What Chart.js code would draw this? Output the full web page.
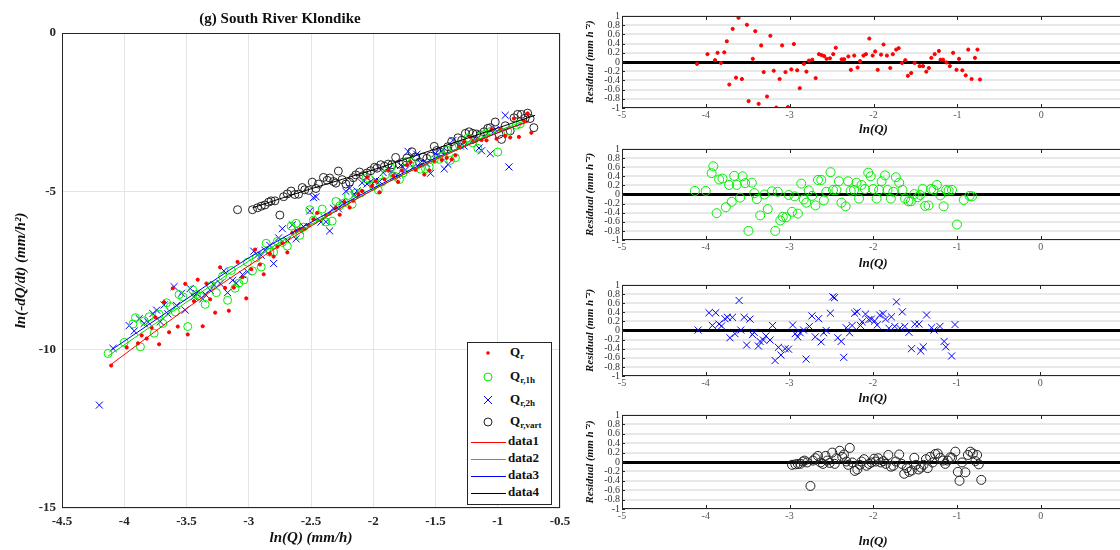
<!DOCTYPE html>
<html>
<head>
<meta charset="utf-8">
<script src="https://cdn.jsdelivr.net/npm/chart.js@4.4.1/dist/chart.umd.min.js"></script>
<style>
  html, body { margin: 0; padding: 0; background: #fff; }
  body { width: 1120px; height: 550px; overflow: hidden; position: relative; font-family: 'Liberation Serif', serif; }
  .pane { position: absolute; }
  #legend { position: absolute; left: 467px; top: 342px; width: 85px; height: 163px; border: 1px solid #262626; background: #fff; box-sizing: border-box; }
  #legend .lbl { position: absolute; font-weight: bold; font-size: 13px; color: #111; white-space: nowrap; line-height: 18px; }
  #legend sub { font-size: 9px; vertical-align: -3px; }
</style>
</head>
<body>
<div class="pane" style="left:0;top:0;width:580px;height:550px"><canvas id="main"></canvas></div>
<div class="pane" id="p1"><canvas id="r1"></canvas></div>
<div class="pane" id="p2"><canvas id="r2"></canvas></div>
<div class="pane" id="p3"><canvas id="r3"></canvas></div>
<div class="pane" id="p4"><canvas id="r4"></canvas></div>
<div id="legend"></div>
<script>
// Q_r (red dots): ln(Q), ln(-dQ/dt), residual
const qrX = [-4.105,-3.98,-3.89,-3.86,-3.82,-3.78,-3.75,-3.72,-3.68,-3.64,
  -3.61,-3.57,-3.51,-3.49,-3.44,-3.41,-3.37,-3.34,-3.31,-3.27,
  -3.23,-3.19,-3.16,-3.12,-3.09,-3.05,-3.02,-2.98,-2.95,-2.91,
  -2.88,-2.83,-2.80,-2.77,-2.73,-2.69,-2.65,-2.62,-2.59,-2.56,
  -2.52,-2.48,-2.45,-2.38,-2.35,-2.30,-2.27,-2.23,-2.19,-2.16,
  -2.12,-2.09,-2.05,-2.01,-1.98,-1.95,-1.91,-1.88,-1.84,-1.80,
  -1.77,-1.73,-1.70,-1.66,-1.62,-1.59,-1.55,-1.51,-1.45,-1.41,
  -1.37,-1.34,-1.31,-1.27,-1.22,-1.20,-1.17,-1.13,-1.09,-1.05,
  -1.01,-0.98,-0.94,-0.90,-0.87,-0.83,-0.79,-0.76,-0.73];
const qrY = [-10.50,-9.93,-9.80,-9.55,-9.65,-9.31,-8.98,-9.83,-8.50,-9.45,
  -8.06,-9.27,-7.92,-9.52,-8.47,-7.79,-9.26,-7.91,-8.41,-8.83,
  -7.40,-8.05,-8.77,-8.04,-7.23,-7.71,-8.38,-7.46,-6.84,-7.31,
  -7.62,-6.97,-7.06,-6.75,-6.63,-6.93,-6.31,-6.25,-6.20,-6.18,
  -6.07,-5.88,-5.68,-5.76,-5.70,-5.52,-5.74,-5.34,-5.51,-5.30,
  -5.09,-4.99,-4.56,-4.83,-4.68,-5.03,-4.62,-4.34,-4.51,-4.70,
  -4.34,-4.17,-4.08,-4.32,-4.19,-4.47,-4.34,-4.04,-4.01,-3.94,
  -3.99,-3.86,-3.59,-3.44,-3.28,-3.44,-3.39,-3.38,-3.39,-3.04,
  -3.34,-3.05,-3.25,-3.30,-2.70,-3.28,-2.77,-2.54,-3.15];
const qrRes = [-0.04,0.17,0.04,0.20,-0.02,0.21,0.45,-0.49,0.72,-0.34,
  0.96,-0.37,0.81,-0.85,0.07,0.67,-0.91,0.36,-0.22,-0.75,
  0.57,-0.19,-0.99,-0.37,0.36,-0.22,-0.98,-0.16,0.39,-0.18,
  -0.57,-0.04,-0.21,0.03,0.05,-0.35,0.17,0.15,0.13,0.07,
  0.08,0.17,0.31,0.06,0.06,0.12,-0.17,0.14,-0.12,0.02,
  0.14,0.17,0.51,0.14,0.23,-0.17,0.16,0.38,0.14,-0.13,
  0.17,0.27,0.30,-0.02,0.04,-0.30,-0.24,-0.02,-0.09,-0.09,
  -0.21,-0.13,0.09,0.17,0.24,0.05,0.05,-0.01,-0.09,0.20,
  -0.17,0.07,-0.18,-0.29,0.27,-0.37,0.09,0.27,-0.38];

// Q_r,1h (green circles)
const q1hX = [-4.13,-4.00,-3.93,-3.91,-3.87,-3.84,-3.80,-3.76,-3.72,-3.69,
  -3.66,-3.63,-3.59,-3.56,-3.53,-3.49,-3.45,-3.42,-3.39,-3.35,
  -3.30,-3.26,-3.21,-3.17,-3.14,-3.11,-3.08,-3.04,-3.01,-2.97,
  -2.94,-2.90,-2.86,-2.83,-2.80,-2.77,-2.73,-2.69,-2.66,-2.62,
  -2.59,-2.56,-2.51,-2.48,-2.44,-2.41,-2.38,-2.33,-2.30,-2.27,
  -2.23,-2.20,-2.17,-2.14,-2.10,-2.06,-2.03,-2.00,-1.96,-1.93,
  -1.90,-1.86,-1.83,-1.79,-1.76,-1.73,-1.69,-1.65,-1.62,-1.58,
  -1.55,-1.51,-1.47,-1.44,-1.41,-1.38,-1.34,-1.31,-1.28,-1.24,
  -1.20,-1.16,-1.13,-1.10,-1.06,-1.00,-0.92,-0.85,-0.82];
const q1hY = [-10.12,-9.77,-9.19,-8.99,-9.91,-9.09,-8.96,-9.48,-8.88,-9.17,
  -8.52,-8.64,-8.81,-8.26,-8.33,-9.27,-8.11,-8.26,-8.31,-8.57,
  -7.98,-8.20,-7.68,-8.44,-7.50,-8.06,-7.90,-7.80,-7.24,-7.51,
  -7.10,-7.39,-6.64,-6.92,-6.92,-6.58,-6.61,-6.73,-6.10,-6.01,
  -6.39,-6.13,-5.58,-5.91,-5.82,-5.56,-5.97,-5.94,-5.32,-5.46,
  -5.36,-5.13,-5.41,-5.05,-5.05,-4.60,-4.62,-4.83,-4.96,-4.71,
  -4.47,-4.26,-4.52,-4.63,-4.42,-4.05,-4.09,-4.17,-4.30,-4.29,
  -4.23,-3.99,-3.99,-3.88,-3.70,-4.02,-3.94,-3.53,-3.49,-3.31,
  -3.47,-3.64,-3.23,-3.19,-3.11,-3.76,-3.10,-2.91,-2.87];
const q1hRes = [0.08,0.08,0.47,0.62,-0.41,0.33,0.35,-0.28,0.21,-0.16,
  0.41,0.21,-0.07,0.40,0.25,-0.80,0.26,0.03,-0.10,-0.46,
  0.00,-0.32,0.07,-0.80,0.06,-0.57,-0.49,-0.50,-0.01,-0.38,
  -0.04,-0.42,0.24,-0.11,-0.18,0.09,-0.03,-0.24,0.32,0.32,
  -0.13,0.06,0.49,0.10,0.10,0.29,-0.18,-0.26,0.29,0.08,
  0.10,0.26,-0.09,0.21,0.12,0.48,0.40,0.12,-0.09,0.10,
  0.29,0.42,0.10,-0.09,0.06,0.38,0.26,0.10,-0.09,-0.15,
  -0.15,0.01,-0.06,-0.01,0.12,-0.25,-0.24,0.12,0.10,0.21,
  -0.02,-0.26,0.10,0.09,0.10,-0.66,-0.12,-0.03,-0.04];

// Q_r,2h (blue crosses); null residual = not shown in residual panel
const q2hX = [-4.20,-4.09,-3.96,-3.92,-3.88,-3.84,-3.81,-3.77,-3.74,-3.71,
  -3.68,-3.65,-3.60,-3.58,-3.54,-3.51,-3.47,-3.44,-3.42,-3.37,
  -3.35,-3.31,-3.28,-3.23,-3.20,-3.17,-3.13,-3.10,-3.05,-3.01,
  -2.96,-2.93,-2.90,-2.87,-2.83,-2.80,-2.76,-2.73,-2.69,-2.65,
  -2.62,-2.59,-2.56,-2.51,-2.48,-2.46,-2.42,-2.38,-2.35,-2.32,
  -2.28,-2.25,-2.22,-2.19,-2.15,-2.13,-2.09,-2.05,-2.02,-1.98,
  -1.95,-1.92,-1.88,-1.85,-1.81,-1.78,-1.74,-1.72,-1.68,-1.65,
  -1.62,-1.57,-1.54,-1.50,-1.45,-1.43,-1.40,-1.36,-1.30,-1.27,
  -1.20,-1.15,-1.13,-1.06,-1.02,-0.94,-0.91];
const q2hY = [-11.75,-9.96,-9.24,-9.41,-9.02,-9.17,-9.13,-8.86,-8.75,-9.12,
  -8.59,-8.87,-8.01,-8.60,-8.22,-8.75,-8.07,-8.33,-8.23,-8.40,
  -8.25,-8.12,-7.95,-7.91,-7.51,-8.20,-7.81,-7.90,-7.63,-7.54,
  -6.89,-7.01,-7.02,-6.86,-6.71,-7.28,-6.47,-6.18,-6.55,-6.06,
  -6.50,-6.23,-6.11,-5.62,-5.20,-5.17,-5.97,-5.96,-6.25,-5.53,
  -5.55,-5.33,-5.00,-4.90,-5.11,-4.99,-4.73,-4.77,-4.69,-4.65,
  -4.69,-4.41,-4.30,-4.37,-4.49,-4.18,-4.32,-3.74,-4.24,-3.83,
  -4.09,-4.12,-4.43,-3.81,-3.73,-4.29,-4.15,-3.39,-3.57,-3.57,
  -3.38,-3.63,-3.72,-3.81,-3.05,-2.60,-4.23];
const q2hRes = [null,0.01,0.39,0.11,0.39,0.14,0.10,0.26,0.29,-0.16,
  0.29,-0.07,0.66,0.01,0.29,-0.32,0.25,-0.09,-0.04,-0.34,
  -0.24,-0.21,-0.12,-0.21,0.11,-0.66,-0.37,-0.54,-0.40,-0.41,
  0.12,-0.07,-0.14,-0.05,0.01,-0.63,0.09,0.32,-0.14,0.26,
  -0.25,-0.05,0.00,0.38,0.74,0.72,-0.16,-0.24,-0.59,0.06,
  -0.05,0.11,0.38,0.41,0.11,0.19,0.36,0.24,0.25,0.21,
  0.12,0.34,0.37,0.25,0.05,0.30,0.09,0.63,0.05,0.41,
  0.09,-0.04,-0.40,0.14,0.14,-0.45,-0.36,0.34,0.06,0.01,
  0.09,-0.24,-0.36,-0.56,0.13,null,null];

// Q_r,vart (black circles)
const qvX = [-3.09,-2.97,-2.93,-2.90,-2.87,-2.84,-2.82,-2.79,-2.75,-2.72,
  -2.69,-2.66,-2.63,-2.60,-2.57,-2.55,-2.52,-2.49,-2.46,-2.44,
  -2.40,-2.37,-2.35,-2.32,-2.30,-2.28,-2.25,-2.22,-2.19,-2.16,
  -2.14,-2.11,-2.08,-2.05,-2.02,-1.99,-1.97,-1.94,-1.91,-1.88,
  -1.85,-1.82,-1.79,-1.76,-1.73,-1.69,-1.66,-1.63,-1.60,-1.57,
  -1.54,-1.51,-1.49,-1.46,-1.43,-1.40,-1.37,-1.35,-1.32,-1.29,
  -1.26,-1.23,-1.20,-1.17,-1.14,-1.11,-1.08,-1.06,-1.02,-0.99,
  -0.97,-0.94,-0.90,-0.87,-0.84,-0.81,-0.78,-0.76,-0.74,-0.71];
const qvY = [-5.58,-5.58,-5.52,-5.47,-5.43,-5.34,-5.30,-5.30,-5.75,-5.17,
  -5.08,-4.99,-5.10,-5.09,-4.88,-4.95,-4.97,-4.71,-4.91,-4.77,
  -4.56,-4.65,-4.58,-4.69,-4.74,-4.36,-4.63,-4.77,-4.71,-4.57,
  -4.48,-4.39,-4.50,-4.42,-4.35,-4.24,-4.27,-4.16,-4.21,-4.14,
  -4.16,-3.93,-4.14,-4.08,-3.95,-3.75,-3.91,-4.08,-3.92,-3.96,
  -3.89,-3.58,-3.71,-3.77,-3.69,-3.59,-3.43,-3.59,-3.31,-3.39,
  -3.17,-3.12,-3.17,-3.19,-3.22,-3.12,-3.01,-2.99,-2.81,-3.20,
  -3.36,-2.93,-3.09,-2.68,-2.57,-2.57,-2.69,-2.53,-2.70,-2.99];
const qvRes = [null,-0.06,-0.05,-0.04,-0.04,0.01,0.03,-0.01,-0.51,0.03,
  0.08,0.13,-0.01,-0.04,0.13,0.03,-0.02,0.20,-0.04,0.08,
  0.24,0.11,0.16,0.01,-0.06,0.30,-0.01,-0.19,-0.16,-0.06,
  0.01,0.06,-0.08,-0.04,-0.01,0.07,0.01,0.08,-0.01,0.02,
  -0.04,0.15,-0.10,-0.08,0.01,0.16,-0.04,-0.25,-0.13,-0.21,
  -0.18,0.09,-0.06,-0.16,-0.12,-0.06,0.06,-0.13,0.11,-0.01,
  0.17,0.18,0.09,0.03,-0.04,0.03,0.10,0.09,0.22,-0.21,
  -0.40,-0.01,-0.22,0.15,0.22,0.18,0.02,0.15,-0.05,-0.38];

// fitted recession curves (data1..data4)
const fit1X = [-4.1,-3.5,-3,-2.5,-2,-1.5,-1,-0.75];
const fit1Y = [-10.45,-8.7,-7.35,-6.1,-4.95,-4.0,-3.15,-2.8];
const fit2X = [-4.13,-3.5,-3,-2.5,-2,-1.5,-1,-0.8];
const fit2Y = [-10.2,-8.5,-7.2,-6.05,-4.95,-3.98,-3.1,-2.8];
const fit3X = [-4.1,-3.5,-3,-2.5,-2,-1.5,-1,-0.8];
const fit3Y = [-10.0,-8.4,-7.1,-5.98,-4.9,-3.95,-3.15,-2.85];
const fit4X = [-2.97,-2.5,-2,-1.5,-1,-0.7];
const fit4Y = [-5.52,-4.92,-4.32,-3.66,-3.0,-2.6];

const legendLabels = ['Q<sub>r</sub>', 'Q<sub>r,1h</sub>', 'Q<sub>r,2h</sub>', 'Q<sub>r,vart</sub>', 'data1', 'data2', 'data3', 'data4'];

const serif = "'Liberation Serif', 'Times New Roman', serif";
const pts = (xs, ys) => xs.map((x, i) => ({ x: x, y: ys[i] })).filter(p => p.y !== null);
const fmt = v => String(Math.round(v * 10) / 10);

const styles = [
  { pointStyle: 'circle', radius: 1.6, color: '#ff0000', fill: '#ff0000' },
  { pointStyle: 'circle', radius: 4, color: '#00ee00', fill: 'rgba(0,0,0,0)' },
  { pointStyle: 'crossRot', radius: 5, color: '#0000ff', fill: 'rgba(0,0,0,0)' },
  { pointStyle: 'circle', radius: 4, color: '#222222', fill: 'rgba(0,0,0,0)' }
];
const lineColors = ['#ff0000', '#00dd00', '#0000ff', '#000000'];

// axes box (MATLAB "box on") with inward tick marks
const boxPlugin = {
  id: 'box',
  afterDraw(chart, args, opts) {
    const { ctx, chartArea: a } = chart;
    ctx.save();
    ctx.strokeStyle = '#262626';
    ctx.lineWidth = 1;
    ctx.strokeRect(Math.round(a.left) + 0.5, Math.round(a.top) + 0.5, Math.round(a.width) - 1, Math.round(a.height) - 1);
    if (opts.inTicks) {
      const sx = chart.scales.x, sy = chart.scales.y;
      ctx.beginPath();
      sx.ticks.forEach(t => {
        const px = Math.round(sx.getPixelForValue(t.value)) + 0.5;
        ctx.moveTo(px, a.bottom); ctx.lineTo(px, a.bottom - 4);
        ctx.moveTo(px, a.top); ctx.lineTo(px, a.top + 4);
      });
      sy.ticks.forEach(t => {
        const py = Math.round(sy.getPixelForValue(t.value)) + 0.5;
        ctx.moveTo(a.left, py); ctx.lineTo(a.left + 3, py);
      });
      ctx.stroke();
    }
    ctx.restore();
  }
};

function scatterSet(label, xs, ys, st, r) {
  return {
    label: label, data: pts(xs, ys), pointStyle: st.pointStyle,
    pointRadius: r || st.radius, pointBorderColor: st.color, pointBackgroundColor: st.fill,
    pointBorderWidth: 1, borderColor: st.color, backgroundColor: st.fill, showLine: false, order: 1
  };
}
function lineSet(label, xs, ys, color) {
  return {
    label: label, data: pts(xs, ys), showLine: true, pointRadius: 0, borderColor: color,
    borderWidth: 1, cubicInterpolationMode: 'monotone', order: 0
  };
}

new Chart(document.getElementById('main'), {
  type: 'scatter',
  data: {
    datasets: [
      scatterSet('Qr', qrX, qrY, styles[0]),
      scatterSet('Qr,1h', q1hX, q1hY, styles[1]),
      scatterSet('Qr,2h', q2hX, q2hY, styles[2]),
      scatterSet('Qr,vart', qvX, qvY, styles[3]),
      lineSet('data1', fit1X, fit1Y, lineColors[0]),
      lineSet('data2', fit2X, fit2Y, lineColors[1]),
      lineSet('data3', fit3X, fit3Y, lineColors[2]),
      lineSet('data4', fit4X, fit4Y, lineColors[3])
    ]
  },
  options: {
    responsive: true, maintainAspectRatio: false, animation: false,
    layout: { padding: { right: 20 } },
    plugins: {
      legend: { display: false }, tooltip: { enabled: false },
      title: { display: true, text: '(g) South River Klondike', color: '#111',
        font: { family: serif, size: 15, weight: 'bold' }, padding: { top: 10, bottom: 5 } },
      box: {}
    },
    scales: {
      x: {
        min: -4.5, max: -0.5,
        ticks: { stepSize: 0.5, autoSkip: false, maxRotation: 0, padding: 6, color: '#262626', callback: fmt,
          font: { family: serif, size: 13, weight: 'bold' } },
        grid: { color: '#e4e4e4', drawTicks: false }, border: { display: false },
        title: { display: true, text: 'ln(Q) (mm/h)', color: '#111', padding: { top: 0, bottom: 3 },
          font: { family: serif, size: 15, weight: 'bold', style: 'italic' } },
        afterFit: s => { s.height = 42; }
      },
      y: {
        min: -15, max: 0,
        ticks: { stepSize: 5, autoSkip: false, padding: 6, color: '#262626', callback: fmt,
          font: { family: serif, size: 13, weight: 'bold' } },
        grid: { color: '#e4e4e4', drawTicks: false }, border: { display: false },
        title: { display: true, text: 'ln(-dQ/dt) (mm/h²)', color: '#111', padding: { top: 12, bottom: 0 },
          font: { family: serif, size: 15, weight: 'bold', style: 'italic' } },
        afterFit: s => { s.width = 62; }
      }
    }
  },
  plugins: [boxPlugin]
});

// residual panels: plot-box top, plot-box bottom, x-label centre (page pixels)
const panels = [
  { id: 'r1', top: 14, bottom: 108, label: 129 },
  { id: 'r2', top: 147, bottom: 240, label: 263 },
  { id: 'r3', top: 283, bottom: 376, label: 398 },
  { id: 'r4', top: 413, bottom: 509, label: 541 }
];
const resSeries = [[qrX, qrRes, 1.6], [q1hX, q1hRes, 4.5], [q2hX, q2hRes, 5], [qvX, qvRes, 4.5]];

panels.forEach((p, i) => {
  const padTop = 6;
  const cTop = p.top - padTop;
  const cH = p.label + 8 - cTop;
  const pane = document.getElementById('p' + (i + 1));
  pane.style.left = '580px'; pane.style.top = cTop + 'px';
  pane.style.width = '550px'; pane.style.height = cH + 'px';
  const axisH = cH - padTop - (p.bottom - p.top);
  const [xs, rs, r] = resSeries[i];
  new Chart(document.getElementById(p.id), {
    type: 'scatter',
    data: { datasets: [scatterSet(legendLabels[i], xs, rs, styles[i], r)] },
    options: {
      responsive: true, maintainAspectRatio: false, animation: false,
      layout: { padding: { top: padTop, right: 5 } },
      plugins: { legend: { display: false }, tooltip: { enabled: false }, box: { inTicks: true } },
      scales: {
        x: {
          min: -5, max: 1,
          ticks: { stepSize: 1, autoSkip: false, maxRotation: 0, padding: 1, color: '#555', callback: fmt,
            font: { family: serif, size: 10 } },
          grid: { display: false, drawTicks: false }, border: { display: false },
          title: { display: true, text: 'ln(Q)', color: '#111', padding: { top: 0, bottom: 0 },
            font: { family: serif, size: 13, weight: 'bold', style: 'italic' } },
          afterFit: s => { s.height = axisH; }
        },
        y: {
          min: -1, max: 1,
          ticks: { stepSize: 0.2, autoSkip: false, padding: 2, color: '#333', callback: fmt,
            font: { family: serif, size: 10 } },
          grid: {
            drawTicks: false,
            color: c => Math.abs(c.tick.value) < 1e-9 ? '#000' : '#e8e8e8',
            lineWidth: c => Math.abs(c.tick.value) < 1e-9 ? 3 : 2
          },
          border: { display: false },
          title: { display: true, text: 'Residual (mm h⁻²)', color: '#111', padding: { top: 4, bottom: 0 },
            font: { family: serif, size: 11, weight: 'bold', style: 'italic' } },
          afterFit: s => { s.width = 42; }
        }
      }
    },
    plugins: [boxPlugin]
  });
});

// legend box inside the main axes
const legendRows = [10, 34, 57, 79, 99, 116, 133, 150];
const legend = document.getElementById('legend');
legendLabels.forEach((txt, i) => {
  const y = legendRows[i];
  let mark;
  if (i < 4) {
    const st = styles[i];
    if (st.pointStyle === 'crossRot') {
      mark = '<path d="M16 5L24 13M24 5L16 13" stroke="' + st.color + '" stroke-width="1"/>';
    } else if (i === 0) {
      mark = '<circle cx="20" cy="9" r="1.8" fill="' + st.color + '"/>';
    } else {
      mark = '<circle cx="20" cy="9" r="4" fill="none" stroke="' + st.color + '" stroke-width="1"/>';
    }
  } else {
    mark = '<line x1="3" y1="9.5" x2="38" y2="9.5" stroke="' + lineColors[i - 4] + '" stroke-width="1"/>';
  }
  const svg = '<svg width="40" height="18" style="position:absolute;left:0;top:' + (y - 9) + 'px">' + mark + '</svg>';
  const lbl = '<div class="lbl" style="left:' + (i < 4 ? 42 : 40) + 'px;top:' + (y - 10) + 'px">' + txt + '</div>';
  legend.insertAdjacentHTML('beforeend', svg + lbl);
});
</script>
</body>
</html>
